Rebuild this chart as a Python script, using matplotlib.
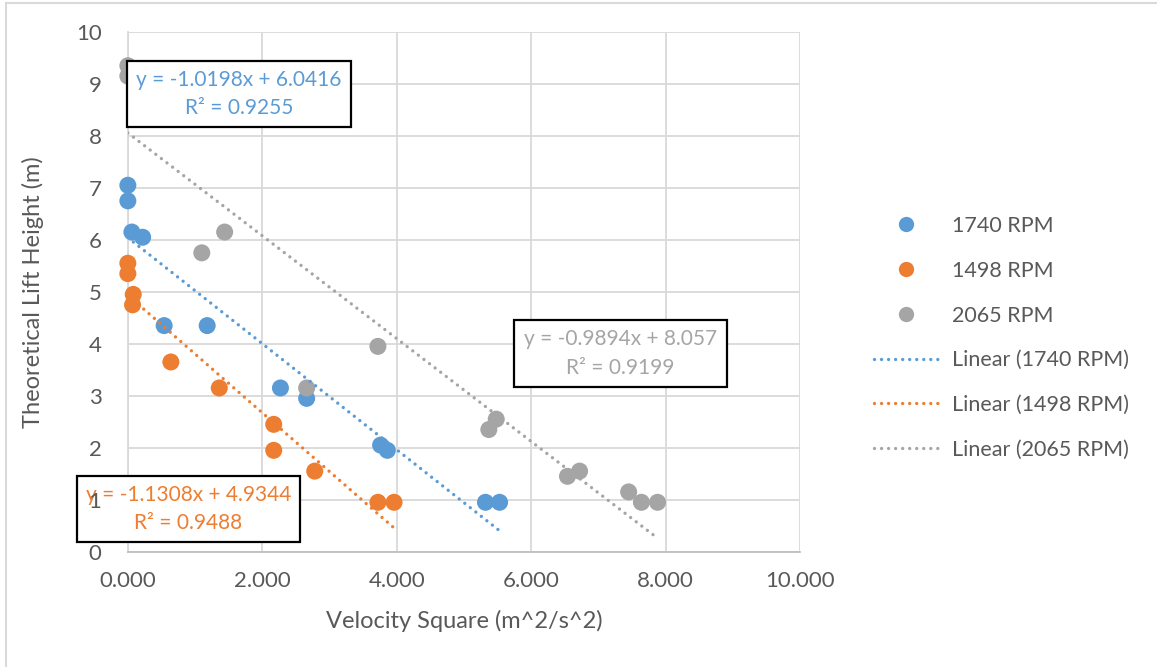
import matplotlib.pyplot as plt
import matplotlib.patches as mpatches
from matplotlib.lines import Line2D
import numpy as np

plt.rcParams['font.family'] = ['Lato', 'DejaVu Sans']

# data
series_names = ['1740 RPM', '1498 RPM', '2065 RPM']

x_1740 = [0.00, 0.00, 0.06, 0.22, 0.54, 1.18, 2.27, 2.66, 3.76, 3.86, 5.32, 5.53]
y_1740 = [7.05, 6.75, 6.15, 6.05, 4.35, 4.35, 3.15, 2.95, 2.05, 1.95, 0.95, 0.95]

x_1498 = [0.00, 0.00, 0.08, 0.07, 0.64, 1.36, 2.17, 2.17, 2.78, 3.72, 3.96]
y_1498 = [5.55, 5.35, 4.95, 4.75, 3.65, 3.15, 2.45, 1.95, 1.55, 0.95, 0.95]

x_2065 = [0.00, 0.00, 1.10, 1.44, 2.66, 3.72, 5.37, 5.48, 6.54, 6.72, 7.45, 7.64, 7.88]
y_2065 = [9.35, 9.15, 5.75, 6.15, 3.15, 3.95, 2.35, 2.55, 1.45, 1.55, 1.15, 0.95, 0.95]

# linear trendline coefficients (as printed on the chart)
slopes = [-1.0198, -1.1308, -0.9894]
intercepts = [6.0416, 4.9344, 8.057]
r_squared = ['0.9255', '0.9488', '0.9199']
eq_labels = ['y = -1.0198x + 6.0416', 'y = -1.1308x + 4.9344', 'y = -0.9894x + 8.057']

colors = ['#5B9BD5', '#ED7D31', '#A5A5A5']
text_col = '#595959'
grid_col = '#D9D9D9'

xs = [x_1740, x_1498, x_2065]
ys = [y_1740, y_1498, y_2065]

fig = plt.figure(figsize=(11.57, 6.67), dpi=100)
ax = fig.add_axes([0.1105, 0.1729, 0.581, 0.7792])

ax.set_xlim(0, 10)
ax.set_ylim(0, 10)
ax.set_xticks(np.arange(0, 10.1, 2))
ax.set_yticks(np.arange(0, 11, 1))
ax.set_xticklabels([f'{v:.3f}' for v in ax.get_xticks()])
ax.set_yticklabels([f'{v:g}' for v in ax.get_yticks()])

# grid drawn by hand so the tick labels can sit above the equation boxes
ax.hlines(ax.get_yticks(), 0, 10, color=grid_col, lw=1.3, zorder=0.5)
ax.vlines(ax.get_xticks(), 0, 10, color=grid_col, lw=1.3, zorder=0.5)
for s in ['top', 'right']:
    ax.spines[s].set_visible(False)
ax.spines['left'].set_color(grid_col)
ax.spines['bottom'].set_color('#BFBFBF')
ax.spines['left'].set_linewidth(1.3)
ax.spines['bottom'].set_linewidth(1.3)
ax.spines['left'].set_zorder(0.6)
ax.spines['bottom'].set_zorder(0.6)

ax.tick_params(axis='both', length=0, labelsize=16, labelcolor=text_col)
ax.tick_params(axis='y', pad=19)
ax.tick_params(axis='x', pad=14)
ax.yaxis.set_zorder(6)
ax.xaxis.set_zorder(6)

# scatter points
for i in range(3):
    ax.scatter(xs[i], ys[i], s=150, color=colors[i], edgecolors='none', zorder=2,
               clip_on=False)

# dotted trendlines over the data range
for i in range(3):
    xl = np.array([min(xs[i]), max(xs[i])])
    ax.plot(xl, slopes[i] * xl + intercepts[i], color=colors[i], lw=2.4,
            linestyle=(0, (0.01, 2.1)), dash_capstyle='round', zorder=3)

# equation boxes (axes fraction)
boxes = [(-0.0012, 0.8172, 0.3332, 0.127),
         (-0.0756, 0.0187, 0.3317, 0.127),
         (0.5745, 0.3169, 0.3169, 0.1289)]
for i in range(3):
    bx, by, bw, bh = boxes[i]
    ax.add_patch(mpatches.Rectangle((bx, by), bw, bh, transform=ax.transAxes,
                                    facecolor='white', edgecolor='black', lw=1.6,
                                    clip_on=False, zorder=4))
    ax.text(bx + bw / 2, by + bh / 2, f'{eq_labels[i]}\nR² = {r_squared[i]}',
            transform=ax.transAxes, ha='center', va='center', ma='center',
            fontsize=15, color=colors[i], linespacing=1.55, zorder=5)

ax.set_xlabel('Velocity Square (m^2/s^2)', fontsize=17, color=text_col)
ax.set_ylabel('Theoretical Lift Height (m)', fontsize=17, color=text_col)
ax.xaxis.set_label_coords(0.5, -0.112)
ax.yaxis.set_label_coords(-0.125, 0.5)

# legend
handles = []
labels = []
for i in range(3):
    handles.append(Line2D([], [], marker='o', ls='none', markersize=11,
                          markerfacecolor=colors[i], markeredgecolor='none'))
    labels.append(series_names[i])
for i in range(3):
    handles.append(Line2D([], [], color=colors[i], lw=2.4, linestyle=(0, (0.01, 2.1)),
                          dash_capstyle='round'))
    labels.append(f'Linear ({series_names[i]})')
leg = fig.legend(handles, labels, loc='upper left',
                 bbox_to_anchor=(874 / 1157, 1 - 216 / 667), bbox_transform=fig.transFigure,
                 frameon=False, fontsize=15.5, handlelength=3.0, handletextpad=0.6,
                 labelspacing=1.15, borderpad=0, borderaxespad=0)
for t in leg.get_texts():
    t.set_color(text_col)

# outer chart border
fig.patches.append(mpatches.Rectangle((6 / 1157, -0.05), 1.1, 1 - 3 / 667 + 0.05,
                                      transform=fig.transFigure, fill=False,
                                      edgecolor='#D9D9D9', lw=1.5))

fig.savefig('out.png', dpi=100)
